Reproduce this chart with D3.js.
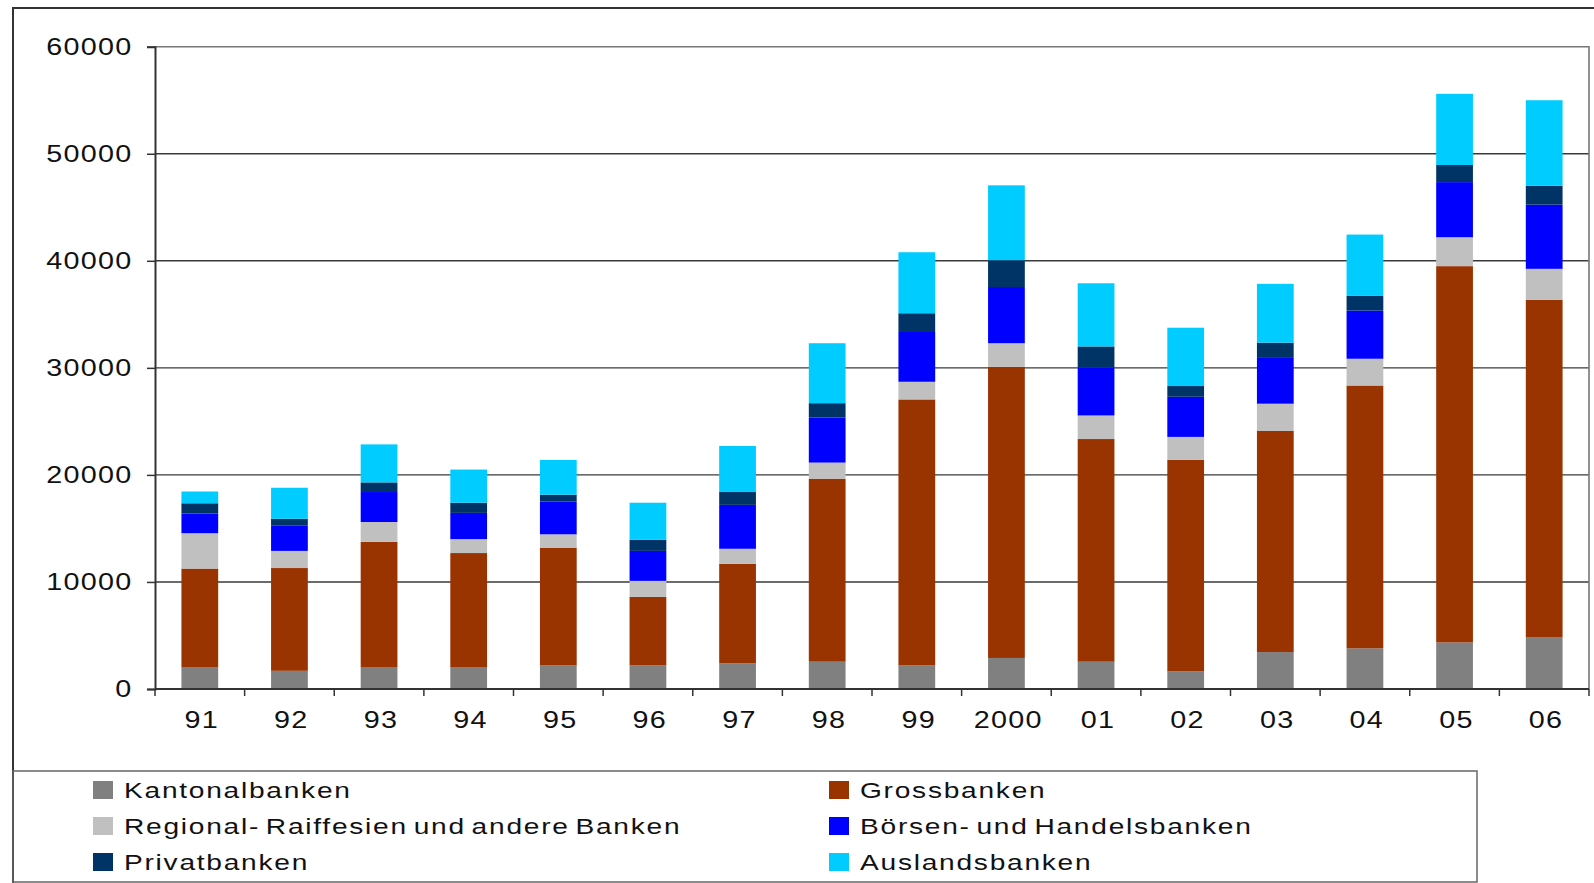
<!DOCTYPE html>
<html>
<head>
<meta charset="utf-8">
<script src="https://cdn.jsdelivr.net/npm/d3@7"></script>
<style>
  body { margin: 0; background: #fff; }
  svg { display: block; font-family: "Liberation Sans", Arial, sans-serif; }
</style>
</head>
<body>
<div id="chart"></div>
<script>
/* global d3 */

// ── Data ─────────────────────────────────────────────────────────
const years = ['91', '92', '93', '94', '95', '96', '97', '98', '99', '2000', '01', '02', '03', '04', '05', '06'];

const kantonalbanken = [2000, 1700, 2000, 2000, 2200, 2200, 2400, 2550, 2200, 2900, 2550, 1650, 3450, 3800, 4350, 4850];
const grossbanken    = [9250, 9600, 11750, 10700, 11000, 6400, 9300, 17100, 24850, 27200, 20800, 19750, 20650, 24550, 35150, 31500];
const regionalbanken = [3300, 1600, 1850, 1300, 1250, 1500, 1400, 1500, 1650, 2200, 2200, 2150, 2550, 2500, 2700, 2900];
const boersenbanken  = [1850, 2350, 2800, 2450, 3050, 2800, 4100, 4200, 4650, 5250, 4500, 3750, 4350, 4500, 5150, 6000];
const privatbanken   = [950, 650, 900, 950, 650, 1050, 1200, 1350, 1750, 2500, 1950, 1000, 1350, 1400, 1600, 1750];
const auslandsbanken = [1100, 2900, 3550, 3100, 3250, 3450, 4300, 5600, 5700, 7000, 5900, 5450, 5500, 5700, 6650, 8000];

const seriesNames = [
  'Kantonalbanken',
  'Grossbanken',
  'Regional- Raiffesien und andere Banken',
  'Börsen- und Handelsbanken',
  'Privatbanken',
  'Auslandsbanken',
];
const seriesValues = [kantonalbanken, grossbanken, regionalbanken, boersenbanken, privatbanken, auslandsbanken];
const seriesColors = ['#808080', '#993300', '#c0c0c0', '#0000ff', '#003366', '#00ccff'];

const yTicks = [0, 10000, 20000, 30000, 40000, 50000, 60000];

// ── Layout ───────────────────────────────────────────────────────
const W = 1594;
const H = 883;
const PLOT = { left: 155, right: 1589, top: 46.7, bottom: 689 };
const SX = 1.25; // horizontal text stretch, the reference glyphs are wide

const svg = d3.select('#chart')
  .append('svg')
  .attr('width', W)
  .attr('height', H);

const x = d3.scaleBand()
  .domain(years)
  .range([PLOT.left, PLOT.right])
  .paddingInner(0.59)
  .paddingOuter(0.295);

const y = d3.scaleLinear()
  .domain([0, 60000])
  .range([PLOT.bottom, PLOT.top]);

// boundaries between categories, for the x tick marks
const xEdge = d3.scaleLinear()
  .domain([0, years.length])
  .range([PLOT.left, PLOT.right]);

// ── Outer frame ──────────────────────────────────────────────────
svg.append('path')
  .attr('d', `M13,${H} L13,8 L${W + 5},8`)
  .attr('fill', 'none')
  .attr('stroke', '#333')
  .attr('stroke-width', 2);

// ── Grid and plot border ─────────────────────────────────────────
svg.append('g')
  .selectAll('line')
  .data(yTicks.filter((d) => d > 0 && d < 60000))
  .join('line')
  .attr('x1', PLOT.left).attr('x2', PLOT.right)
  .attr('y1', (d) => y(d)).attr('y2', (d) => y(d))
  .attr('stroke', '#3a3a3a')
  .attr('stroke-width', 1.4);

svg.append('path')
  .attr('d', `M${PLOT.left},${y(60000)} L${PLOT.right},${y(60000)} L${PLOT.right},${PLOT.bottom}`)
  .attr('fill', 'none')
  .attr('stroke', '#777')
  .attr('stroke-width', 1.6);

// ── Bars ─────────────────────────────────────────────────────────
const rows = years.map((yr, i) => {
  const r = { year: yr };
  seriesNames.forEach((s, k) => { r[s] = seriesValues[k][i]; });
  return r;
});

const stacked = d3.stack().keys(seriesNames)(rows);

svg.append('g')
  .selectAll('g')
  .data(stacked)
  .join('g')
  .attr('fill', (d, i) => seriesColors[i])
  .selectAll('rect')
  .data((d) => d)
  .join('rect')
  .attr('x', (d) => x(d.data.year))
  .attr('width', x.bandwidth())
  .attr('y', (d) => y(d[1]))
  .attr('height', (d) => y(d[0]) - y(d[1]));

// ── Axes ─────────────────────────────────────────────────────────
const yAxis = svg.append('g')
  .attr('transform', `translate(${PLOT.left},0)`)
  .call(d3.axisLeft(y).tickValues(yTicks).tickSize(8).tickFormat(d3.format('d')));

yAxis.select('.domain').attr('stroke', '#333').attr('stroke-width', 2);
yAxis.selectAll('.tick line').attr('stroke', '#333').attr('stroke-width', 1.5);
yAxis.selectAll('.tick text')
  .attr('x', -18)
  .attr('dy', '0.34em')
  .attr('transform', `scale(${SX},1)`)
  .style('font-size', '23px')
  .style('letter-spacing', '1px')
  .attr('fill', '#111');

const xAxis = svg.append('g')
  .attr('transform', `translate(0,${PLOT.bottom})`)
  .call(d3.axisBottom(x).tickSize(0));

xAxis.select('.domain').remove();
xAxis.selectAll('.tick text')
  .attr('y', 39.5)
  .attr('dy', 0)
  .attr('x', 1.5)
  .attr('transform', `scale(${SX},1)`)
  .style('font-size', '23px')
  .style('letter-spacing', '1px')
  .attr('fill', '#111');

svg.append('line')
  .attr('x1', PLOT.left).attr('x2', PLOT.right)
  .attr('y1', PLOT.bottom).attr('y2', PLOT.bottom)
  .attr('stroke', '#333')
  .attr('stroke-width', 2);

svg.append('g')
  .selectAll('line')
  .data(d3.range(years.length + 1))
  .join('line')
  .attr('x1', (d) => xEdge(d)).attr('x2', (d) => xEdge(d))
  .attr('y1', PLOT.bottom).attr('y2', PLOT.bottom + 7)
  .attr('stroke', '#333')
  .attr('stroke-width', 1.5);

// ── Legend ───────────────────────────────────────────────────────
svg.append('rect')
  .attr('x', 13).attr('y', 771)
  .attr('width', 1477 - 13).attr('height', 882 - 771)
  .attr('fill', 'none')
  .attr('stroke', '#666')
  .attr('stroke-width', 1.5);

const LEG_COLS = [93, 829];
const LEG_ROWS = [790, 826, 862];

const legend = svg.append('g')
  .selectAll('g')
  .data(seriesNames)
  .join('g')
  .attr('transform', (d, i) => `translate(${LEG_COLS[i % 2]},${LEG_ROWS[Math.floor(i / 2)]})`);

legend.append('rect')
  .attr('x', 0).attr('y', -9)
  .attr('width', 20).attr('height', 18)
  .attr('fill', (d, i) => seriesColors[i]);

legend.append('text')
  .attr('transform', `translate(31,8) scale(${SX},1)`)
  .style('font-size', '22.5px')
  .style('letter-spacing', '1.4px')
  .style('word-spacing', '-3px')
  .attr('fill', '#111')
  .text((d) => d);
</script>
</body>
</html>
